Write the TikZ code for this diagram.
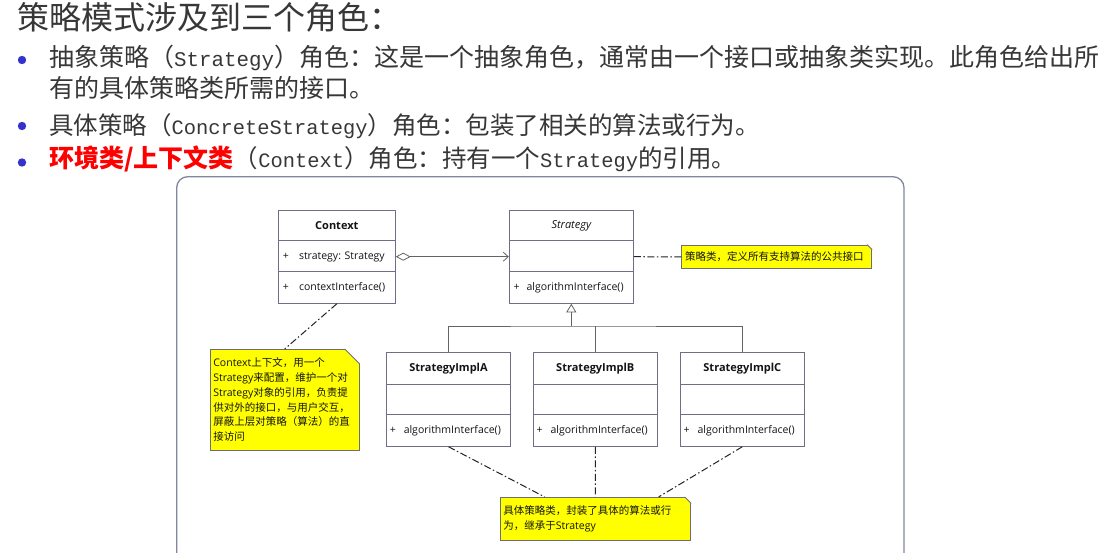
\documentclass[tikz,border=0pt]{standalone}
\usepackage{fontspec}
\setmainfont{Noto Sans CJK SC}
\newfontfamily\hw{Liberation Mono}[Scale=0.8333]
\newfontfamily\os{Open Sans}
\usetikzlibrary{arrows.meta}
\definecolor{txt}{RGB}{55,55,55}
\definecolor{umltxt}{RGB}{20,20,20}
\definecolor{bulc}{RGB}{51,51,204}
\definecolor{framec}{RGB}{130,135,155}
\definecolor{clsc}{RGB}{110,110,135}
\definecolor{notec}{RGB}{110,110,110}
\definecolor{notey}{RGB}{255,255,0}
\definecolor{ddc}{RGB}{35,35,35}
\definecolor{assc}{RGB}{100,100,100}
\newcommand\notefold[2]{%
  \fill[white] ([xshift=-#2]#1.north east) -- ([xshift=0.7pt,yshift=0.7pt]#1.north east) -- ([yshift=-#2]#1.north east) -- cycle;
  \draw[notec,line width=0.8pt] ([xshift=-#2]#1.north east) -- ([yshift=-#2]#1.north east);}
\begin{document}
\begin{tikzpicture}[x=1pt,y=-1pt,
  hdr/.style={anchor=base west, inner sep=0, text=txt},
  bul/.style={circle, fill=bulc, inner sep=0, minimum size=8.4pt},
  cls/.style={draw=clsc, fill=white, line width=0.9pt, inner sep=0},
  divl/.style={draw=clsc, line width=0.9pt},
  ctitle/.style={font={\os\bfseries\fontsize{11}{13}\selectfont}, inner sep=0, text=umltxt},
  mem/.style={font={\os\fontsize{10.5}{12}\selectfont}, inner sep=0, anchor=west, text=umltxt},
  note/.style={draw=notec, fill=notey, line width=0.8pt, inner ysep=0, inner xsep=3.3pt, align=left, font={\fontsize{10.5}{14.7}\selectfont}, text=umltxt},
  dd/.style={draw=ddc, line width=1pt, dash pattern=on 7pt off 2.5pt on 1.5pt off 2.5pt},
  assoc/.style={draw=assc, line width=0.8pt},
  gen/.style={draw=assc, line width=0.8pt}
]
\useasboundingbox (0,0) rectangle (1106,552);
\fill[white] (0,0) rectangle (1106,552);

% header text
\node[hdr] (title) at (17,29.2) {\fontsize{32}{32}\selectfont 策略模式涉及到三个角色：};
\node[bul] (b1) at (22,60) {};
\node[hdr] (l1) at (49,66) {\fontsize{25}{25}\selectfont 抽象策略（{\hw Strategy}）角色：这是一个抽象角色，通常由一个接口或抽象类实现。此角色给出所};
\node[hdr] (l2) at (49,97.4) {\fontsize{25}{25}\selectfont 有的具体策略类所需的接口。};
\node[bul] (b2) at (22,126) {};
\node[hdr] (l3) at (49,134.4) {\fontsize{24.5}{25}\selectfont 具体策略（{\hw ConcreteStrategy}）角色：包装了相关的算法或行为。};
\node[bul] (b3) at (22,162.5) {};
\node[hdr] (l4) at (49,167.4) {\fontsize{24.5}{25}\selectfont{\color{red}\fontsize{25}{25}\selectfont\bfseries 环境类/上下文类}（{\hw Context}）角色：持有一个{\hw Strategy}的引用。};

% frame
\begin{scope}
\clip (0,0) rectangle (1106,552);
\draw[framec, line width=1.3pt, rounded corners=11pt] (176.7,575) -- (176.7,176.7) -- (904,176.7) -- (904,575);
\end{scope}

% Context class
\node[cls, minimum width=117pt, minimum height=93.3pt] (ctx) at (336.8,256.7) {};
\draw[divl] ([yshift=-31.3pt]ctx.north west) -- ([yshift=-31.3pt]ctx.north east);
\draw[divl] ([yshift=-62pt]ctx.north west) -- ([yshift=-62pt]ctx.north east);
\node[ctitle] (ctxT) at (336.8,225.7) {Context};
\node[mem, anchor=center] (ctxP1) at (285.8,256.7) {+};
\node[mem] (ctxA) at (298.8,256.7) {strategy: Strategy};
\node[mem, anchor=center] (ctxP2) at (285.8,287.7) {+};
\node[mem] (ctxO) at (298.8,287.7) {contextInterface()};

% Strategy class
\node[cls, minimum width=124pt, minimum height=93.3pt] (strat) at (571.3,256.7) {};
\draw[divl] ([yshift=-31.3pt]strat.north west) -- ([yshift=-31.3pt]strat.north east);
\draw[divl] ([yshift=-62pt]strat.north west) -- ([yshift=-62pt]strat.north east);
\node[ctitle, font={\os\itshape\fontsize{11}{13}\selectfont}] (stratT) at (571.3,225.7) {Strategy};
\node[mem, anchor=center] (stratP) at (516.5,287.7) {+};
\node[mem] (stratO) at (526.3,287.7) {algorithmInterface()};

% Impl classes
\foreach \nm/\cx/\lab in {implA/448.5/StrategyImplA, implB/595.3/StrategyImplB, implC/742.3/StrategyImplC}{
  \node[cls, minimum width=123.6pt, minimum height=94pt] (\nm) at (\cx,399.3) {};
  \draw[divl] ([yshift=-33pt]\nm.north west) -- ([yshift=-33pt]\nm.north east);
  \draw[divl] ([yshift=-63pt]\nm.north west) -- ([yshift=-63pt]\nm.north east);
  \node[ctitle] (\nm T) at (\cx,368.8) {\lab};
  \node[mem, anchor=center] (\nm P) at ([xshift=6.6pt]\nm.west |- 0,430.8) {+};
  \node[mem] (\nm O) at ([xshift=17.3pt]\nm.west |- 0,430.8) {algorithmInterface()};
}

% aggregation
\draw[assoc, {Diamond[open,length=15pt,width=8pt]}-{Straight Barb[length=5pt,width=9pt]}] (ctx.east) -- (strat.west);

% generalization
\coordinate (gj) at (571.3,326);
\draw[gen, -{Triangle[open,length=8.5pt,width=10pt]}] (gj) -- (strat.south);
\draw[gen] (implA.north) |- (gj) -| (implC.north);
\draw[gen] (implB.north) -- (implB.north |- gj);

% notes
\node[note, text width=183.4pt, minimum height=23.7pt] (snote) at (776.7,256.9) {策略类，定义所有支持算法的公共接口};
\notefold{snote}{5pt}
\node[note, text width=142.7pt, minimum height=100.7pt] (cnote) at (284.7,399.7) {{\os Context}上下文，用一个\\{\os Strategy}来配置，维护一个对\\{\os Strategy}对象的引用，负责提\\供对外的接口，与用户交互，\\屏蔽上层对策略（算法）的直\\接访问};
\notefold{cnote}{15pt}
\node[note, text width=184.1pt, minimum height=42.7pt, font={\fontsize{10.5}{15}\selectfont}] (bnote) at (595.35,518.65) {具体策略类，封装了具体的算法或行\\为，继承于{\os Strategy}};
\notefold{bnote}{6.5pt}

% note connectors
\draw[dd] (strat.east) -- (snote.west);
\draw[dd] (ctx.south) -- (cnote.north);
\draw[dd] (implA.south) -- ([xshift=45pt]bnote.north west);
\draw[dd] (implB.south) -- (bnote.north);
\draw[dd] (implC.south) -- ([xshift=-32.4pt]bnote.north east);
\end{tikzpicture}
\end{document}
